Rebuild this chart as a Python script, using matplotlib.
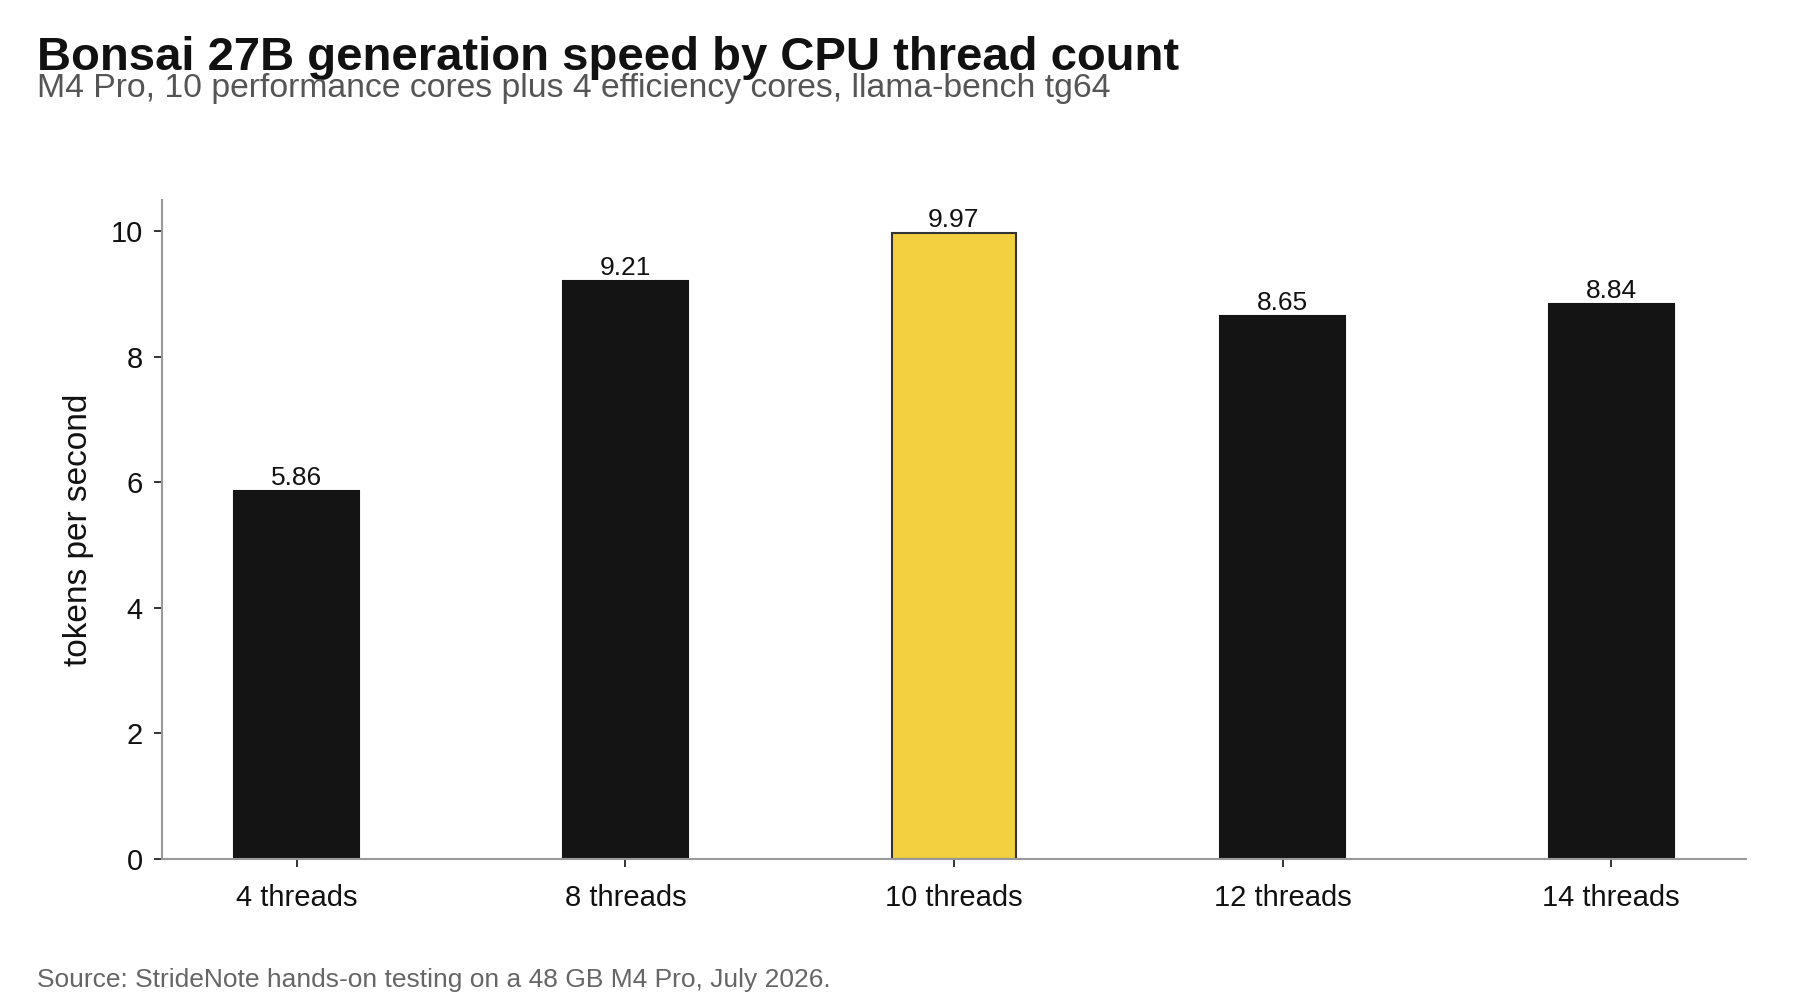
import matplotlib
matplotlib.use("Agg")
import matplotlib.pyplot as plt

plt.rcParams['font.family'] = ['Liberation Sans', 'DejaVu Sans']

# data
thread_labels = ["4 threads", "8 threads", "10 threads", "12 threads", "14 threads"]
tokens_per_sec = [5.86, 9.21, 9.97, 8.65, 8.84]
highlight_idx = 2

BAR_DARK = "#141414"
BAR_HL = "#F2D040"
SPINE = "#999999"


def main():
    fig = plt.figure(figsize=(18, 10), dpi=100)
    ax = fig.add_axes([0.09, 0.141, 0.88, 0.659])

    colors = [BAR_HL if i == highlight_idx else BAR_DARK for i in range(len(tokens_per_sec))]
    edges = ["#333333" if i == highlight_idx else BAR_DARK for i in range(len(tokens_per_sec))]
    x = list(range(len(thread_labels)))
    bars = ax.bar(x, tokens_per_sec, width=0.38, color=colors, edgecolor=edges, linewidth=1.5, zorder=2)

    for b, v in zip(bars, tokens_per_sec):
        ax.annotate(f"{v:.2f}", (b.get_x() + b.get_width() / 2, v), xytext=(0, 1),
                    textcoords="offset points", ha="center", va="bottom", fontsize=19, color="#111111")

    ax.set_xlim(-0.41, len(x) - 1 + 0.41)
    ax.set_ylim(0, 10.5)
    ax.set_yticks([0, 2, 4, 6, 8, 10])
    ax.set_xticks(x)
    ax.set_xticklabels(thread_labels)
    ax.tick_params(axis="both", labelsize=21, colors="#111111", length=6, width=1.2)
    ax.tick_params(axis="x", pad=12)
    ax.tick_params(axis="y", pad=8)
    ax.set_ylabel("tokens per second", fontsize=24, color="#111111", labelpad=12)

    for side in ["top", "right"]:
        ax.spines[side].set_visible(False)
    for side in ["left", "bottom"]:
        ax.spines[side].set_color(SPINE)
        ax.spines[side].set_linewidth(1.5)

    fig.text(0.0205, 0.930, "Bonsai 27B generation speed by CPU thread count",
             fontsize=34, fontweight="bold", color="#111111", ha="left", va="baseline")
    fig.text(0.0205, 0.903, "M4 Pro, 10 performance cores plus 4 efficiency cores, llama-bench tg64",
             fontsize=24.3, color="#555555", ha="left", va="baseline")
    fig.text(0.0205, 0.013, "Source: StrideNote hands-on testing on a 48 GB M4 Pro, July 2026.",
             fontsize=19, color="#666666", ha="left", va="baseline")

    fig.savefig("out.png", dpi=100, facecolor="white")


if __name__ == "__main__":
    main()
